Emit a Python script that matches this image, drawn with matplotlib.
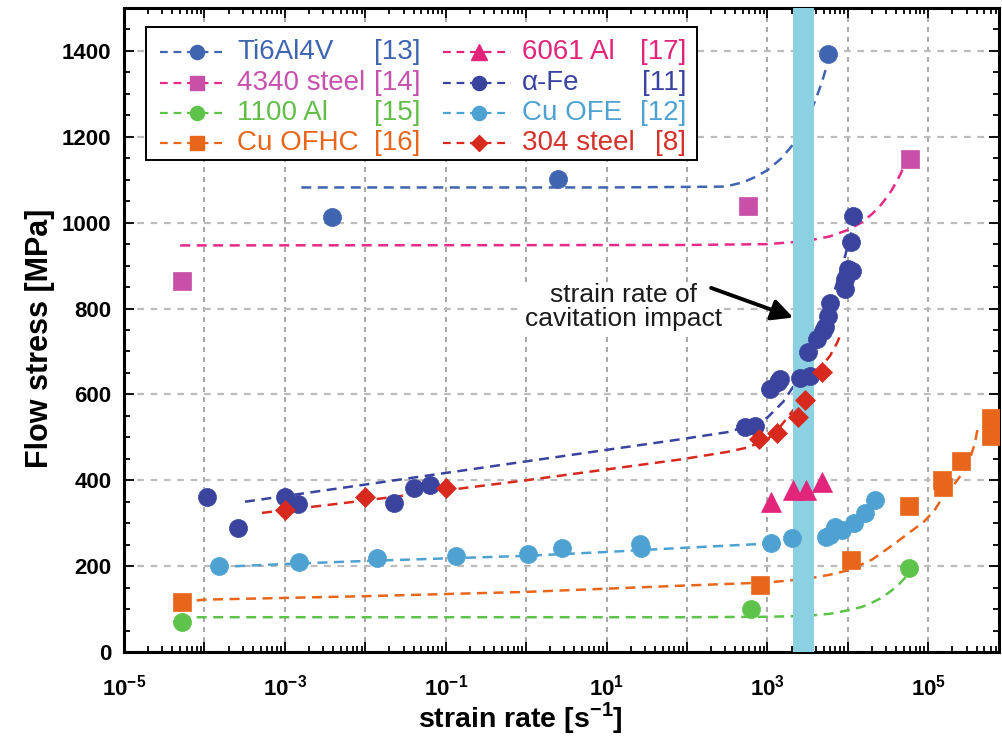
import matplotlib
matplotlib.use("Agg")
import matplotlib.pyplot as plt
from matplotlib.ticker import FixedLocator, LogLocator, MultipleLocator, FuncFormatter, NullFormatter
from matplotlib.lines import Line2D
from matplotlib.patches import Rectangle
import numpy as np

plt.rcParams["font.family"] = ["Liberation Sans", "DejaVu Sans"]
plt.rcParams["mathtext.fontset"] = "custom"
plt.rcParams["mathtext.rm"] = "Liberation Sans"
plt.rcParams["mathtext.bf"] = "Liberation Sans:bold"

# ---- measured flow stress data (strain rate in 1/s, stress in MPa) ----
ti_rate = [0.0039, 2.5, 5700]
ti_stress = [1013, 1101, 1393]
ti_fit_rate = [1.6e-3, 1e1, 3e2, 5e2, 7e2, 1e3, 1.5e3, 2e3, 2.5e3, 3e3, 3.5e3, 4e3, 4.5e3, 5e3, 5.5e3]
ti_fit_stress = [1082, 1082, 1084, 1094, 1106, 1122, 1150, 1178, 1206, 1234, 1260, 1288, 1314, 1340, 1366]

s4340_rate = [5.2e-5, 580, 60000]
s4340_stress = [863, 1038, 1148]
s4340_fit_rate = [5e-5, 1e2, 1e3, 3e3, 6e3, 1e4, 1.5e4, 2e4, 2.5e4, 3e4, 3.5e4, 4e4, 4.5e4, 5e4, 5.5e4]
s4340_fit_stress = [947, 948, 950, 957, 968, 983, 1001, 1020, 1038, 1057, 1075, 1094, 1112, 1131, 1149]

al1100_rate = [5.2e-5, 620, 58000]
al1100_stress = [70, 100, 196]
al1100_fit_rate = [5e-5, 1e2, 1e3, 3e3, 6e3, 1e4, 1.5e4, 2e4, 2.5e4, 3e4, 3.5e4, 4e4, 4.5e4, 5e4, 5.5e4]
al1100_fit_stress = [81, 81, 82, 84, 89, 97, 105, 115, 124, 134, 143, 152, 161, 170, 179]

cuofhc_rate = [5.3e-5, 810, 11000, 57000, 148000, 155000, 257000, 600000, 600000]
cuofhc_stress = [117, 156, 215, 339, 401, 385, 446, 504, 544]
cuofhc_fit_rate = [5e-5, 1e-4, 1e-2, 1, 1e2, 1e3, 3e3, 6e3, 1e4, 2e4, 4e4, 6e4, 8.7e4,
                   1.2e5, 1.6e5, 2.2e5, 2.75e5, 3.3e5, 3.8e5, 4.1e5]
cuofhc_fit_stress = [116, 122, 130, 140, 155, 162, 170, 180, 190, 215, 255, 280, 302,
                     330, 368, 395, 420, 450, 485, 518]

al6061_rate = [1100, 2100, 3000, 4800]
al6061_stress = [350, 378, 378, 397]

fe_rate = [1.07e-4, 2.6e-4, 1.0e-3, 1.45e-3, 0.023, 0.04, 0.064, 525, 710, 1070, 1350, 1450,
           2570, 3390, 3160, 4170, 4900, 5250, 5750, 6030, 9330, 9330, 10000, 11200, 11000, 11700]
fe_stress = [362, 289, 362, 345, 348, 383, 390, 525, 527, 612, 630, 635,
             638, 642, 698, 728, 747, 758, 782, 814, 845, 868, 891, 887, 954, 1015]
fe_fit_rate = [3.2e-4, 1e-2, 1, 80, 316, 630, 1000, 1580, 2510, 3980, 6310, 8900, 11200, 12600]
fe_fit_stress = [350, 390, 444, 495, 512, 528, 546, 583, 640, 720, 820, 910, 980, 1020]

cuofe_rate = [1.5e-4, 1.5e-3, 0.014, 0.135, 1.06, 2.8, 26, 27, 1100, 2050,
              5400, 6000, 7000, 8500, 12000, 16600, 22000]
cuofe_stress = [200, 210, 219, 224, 229, 243, 252, 243, 254, 266,
                268, 273, 292, 285, 301, 324, 355]
cuofe_fit_rate = [1.5e-4, 1e-3, 1e-2, 0.1, 1, 10, 100, 900]
cuofe_fit_stress = [198, 205, 212, 218, 224, 233, 243, 252]

s304_rate = [1e-3, 0.0098, 0.1, 780, 1320, 2400, 2900, 4800]
s304_stress = [331, 362, 383, 495, 511, 548, 588, 653]
s304_fit_rate = [5.2e-4, 1e-2, 1, 80, 316, 560, 1000, 1450, 2240, 3160, 4470, 6030, 7410, 7940]
s304_fit_stress = [324, 353, 400, 448, 466, 476, 495, 525, 570, 615, 660, 690, 721, 735]

cavitation_band = [2.1e3, 3.8e3]

# name, reference, marker, marker colour, line colour, text colour
series = [
    ("Ti6Al4V", "[13]", "o", "#3f64b0", "#3f64b0", "#3f64b0", ti_rate, ti_stress, ti_fit_rate, ti_fit_stress),
    ("4340 steel", "[14]", "s", "#c850a8", "#e62a87", "#c751ad", s4340_rate, s4340_stress, s4340_fit_rate, s4340_fit_stress),
    ("1100 Al", "[15]", "o", "#5ec34b", "#5ec34b", "#62bd4a", al1100_rate, al1100_stress, al1100_fit_rate, al1100_fit_stress),
    ("Cu OFHC", "[16]", "s", "#e8661c", "#e8661c", "#e8661c", cuofhc_rate, cuofhc_stress, cuofhc_fit_rate, cuofhc_fit_stress),
    ("6061 Al", "[17]", "^", "#e2257b", "#e2257b", "#e2257b", al6061_rate, al6061_stress, None, None),
    ("\u03b1-Fe", "[11]", "o", "#3a449f", "#3a449f", "#3a449f", fe_rate, fe_stress, fe_fit_rate, fe_fit_stress),
    ("Cu OFE", "[12]", "o", "#4ea2d2", "#4ea2d2", "#4ea2d2", cuofe_rate, cuofe_stress, cuofe_fit_rate, cuofe_fit_stress),
    ("304 steel", "[8]", "D", "#d7291e", "#d7291e", "#d4322a", s304_rate, s304_stress, s304_fit_rate, s304_fit_stress),
]
marker_size = {"o": 13, "s": 13, "^": 14, "D": 10.5}
dash = (0, (4, 2.6))

fig = plt.figure(figsize=(10.02, 7.45), dpi=100)
ax = fig.add_axes([124 / 1002, 93 / 745, 875 / 1002, 644 / 745])
ax.set_xscale("log")
ax.set_xlim(1e-5, 7.6e5)
ax.set_ylim(0, 1500)

# grid
ax.set_axisbelow(True)
ax.xaxis.grid(True, which="major", color="#9a9a9a", ls=(0, (3, 3)), lw=1.2, zorder=0)
ax.yaxis.grid(True, which="major", color="#bdbdbd", ls=(0, (3, 3)), lw=1.6, zorder=0)

# fitted curves
for name, ref, mk, mc, lc, tc, xr, ys, fx, fy in series:
    if fx is not None:
        ax.plot(fx, fy, color=lc, lw=1.8, ls=dash, zorder=2)

# cavitation strain-rate band
ax.axvspan(cavitation_band[0], cavitation_band[1], color="#8bd1e1", zorder=3, lw=0)

# measured points
for name, ref, mk, mc, lc, tc, xr, ys, fx, fy in series:
    ax.plot(xr, ys, ls="none", marker=mk, ms=marker_size[mk], mfc=mc, mec=mc, mew=0.5, zorder=4)

# annotation
ax.text(16.3, 803, "strain rate of\ncavitation impact", ha="center", va="center",
        fontsize=19, color="#1b1b1b", linespacing=1.0, zorder=6,
        bbox=dict(facecolor="white", edgecolor="none", pad=1))
ax.annotate("", xy=(cavitation_band[0], 779), xytext=(200, 848),
            arrowprops=dict(arrowstyle="-|>", lw=2.8, color="black", mutation_scale=32,
                            shrinkA=0, shrinkB=0), zorder=6)

# legend drawn as a boxed table of samples, names and references
def fx_(px):
    return (px - 124) / 875

def fy_(py):
    return (652 - py) / 644

ax.add_patch(Rectangle((fx_(146), fy_(160)), fx_(697) - fx_(146), fy_(27) - fy_(160),
                       transform=ax.transAxes, facecolor="white", edgecolor="black",
                       lw=1.4, zorder=7))
rows = [52, 83, 113, 143]
cols = [(160, 226, 197, 237, 420), (443, 511, 479, 522, 686)]
for i, (name, ref, mk, mc, lc, tc, *_rest) in enumerate(series):
    c = cols[i // 4]
    yy = fy_(rows[i % 4])
    ax.add_line(Line2D([fx_(c[0]), fx_(c[1])], [yy, yy], transform=ax.transAxes,
                       color=lc, lw=1.6, ls=(0, (3.5, 2.6)), zorder=8))
    ax.add_line(Line2D([fx_(c[2])], [yy], transform=ax.transAxes, marker=mk,
                       ms=marker_size[mk] * 0.78, mfc=mc, mec=mc, ls="none", zorder=9))
    ax.text(fx_(c[3]), yy, name, transform=ax.transAxes, ha="left", va="center",
            fontsize=20, color=tc, zorder=9)
    ax.text(fx_(c[4]), yy, ref, transform=ax.transAxes, ha="right", va="center",
            fontsize=20, color=tc, zorder=9)

# ticks
ax.xaxis.set_major_locator(FixedLocator([10.0 ** k for k in range(-5, 7)]))
ax.xaxis.set_minor_locator(LogLocator(base=10, subs=np.arange(2, 10), numticks=30))
ax.xaxis.set_minor_formatter(NullFormatter())


def xfmt(v, pos):
    k = int(round(np.log10(v)))
    if k % 2 == 0:
        return ""
    return r"$\mathbf{10^{%d}}$" % k


ax.xaxis.set_major_formatter(FuncFormatter(xfmt))
ax.yaxis.set_major_locator(MultipleLocator(200))
ax.yaxis.set_minor_locator(MultipleLocator(50))
ax.tick_params(which="both", direction="in", top=True, right=True, width=1.3, colors="black")
ax.tick_params(which="major", length=7)
ax.tick_params(which="minor", length=4)
ax.tick_params(axis="x", which="major", pad=16, labelsize=16)
ax.tick_params(axis="y", which="major", pad=9, labelsize=16)
for lab in ax.get_yticklabels():
    lab.set_fontweight("bold")
for sp in ax.spines.values():
    sp.set_linewidth(2.2)

ax.set_xlabel(r"strain rate [s$^{\mathbf{-1}}$]", fontsize=20.5, fontweight="bold")
ax.xaxis.label.set_va("center")
ax.xaxis.set_label_coords(fx_(520), fy_(718))
ax.set_ylabel("Flow stress [MPa]", fontsize=22, fontweight="bold")
ax.yaxis.label.set_va("center")
ax.yaxis.set_label_coords(fx_(40), fy_(338))

fig.savefig("out.png", dpi=100)
